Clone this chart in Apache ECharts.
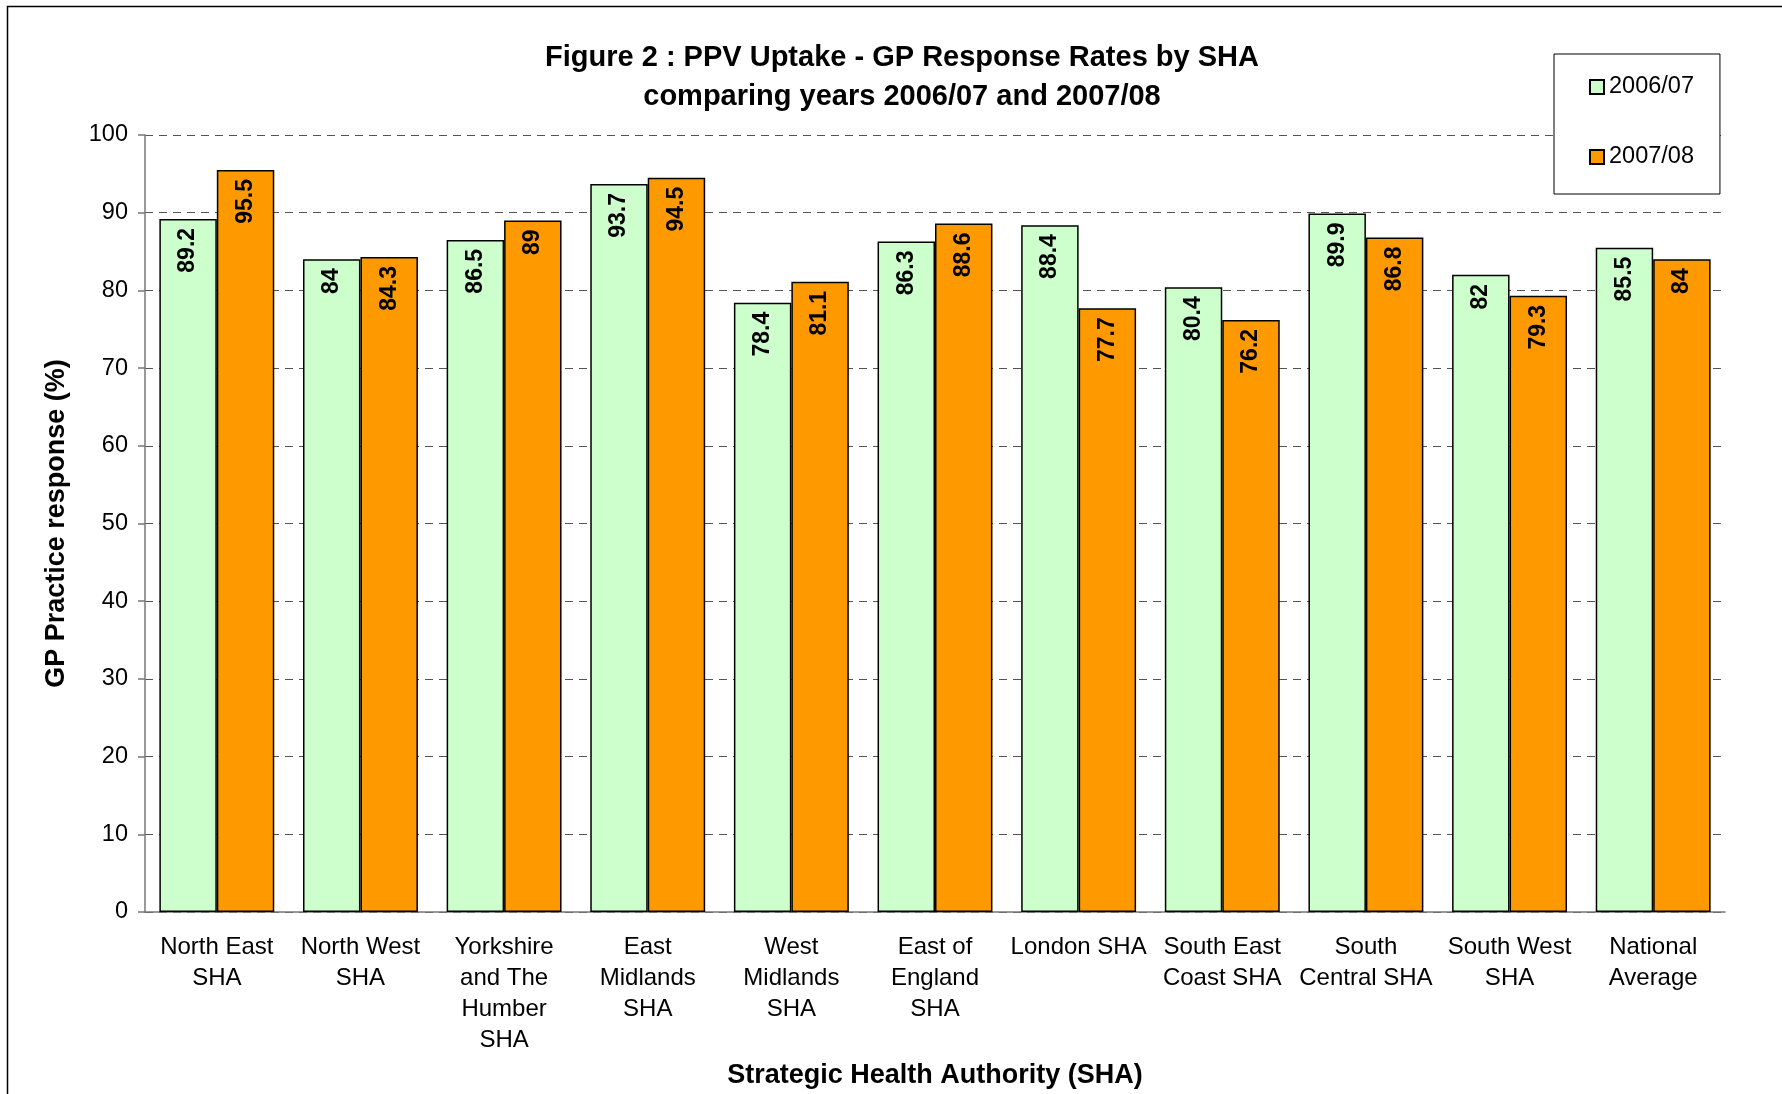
<!DOCTYPE html>
<html>
<head>
<meta charset="utf-8">
<script src="https://cdn.jsdelivr.net/npm/echarts@6/dist/echarts.min.js"></script>
<style>
  html, body { margin: 0; padding: 0; background: #fff; }
  #chart { width: 1782px; height: 1094px; }
</style>
</head>
<body>
<div id="chart"></div>
<script>
// categories and values
var categories = [
    'North East\nSHA', 'North West\nSHA', 'Yorkshire\nand The\nHumber\nSHA',
    'East\nMidlands\nSHA', 'West\nMidlands\nSHA', 'East of\nEngland\nSHA',
    'London SHA', 'South East\nCoast SHA', 'South\nCentral SHA',
    'South West\nSHA', 'National\nAverage'
];
var seriesNames = ['2006/07', '2007/08'];
var values0607 = [89.2, 84, 86.5, 93.7, 78.4, 86.3, 88.4, 80.4, 89.9, 82, 85.5];
var values0708 = [95.5, 84.3, 89, 94.5, 81.1, 88.6, 77.7, 76.2, 86.8, 79.3, 84];
var yTicks = { min: 0, max: 100, step: 10 };

var FONT = 'Liberation Sans, Arial, sans-serif';

function barSeries(name, data, color) {
    return {
        name: name,
        type: 'bar',
        data: data,
        barGap: '0%',
        barCategoryGap: '20%',
        itemStyle: { color: color, borderColor: '#000', borderWidth: 1.5 },
        label: {
            show: true,
            position: 'insideTop',
            rotate: 90,
            align: 'right',
            verticalAlign: 'middle',
            distance: 9,
            fontFamily: FONT,
            fontWeight: 'bold',
            fontSize: 23,
            color: '#000'
        }
    };
}

var chart = echarts.init(document.getElementById('chart'));
chart.setOption({
    animation: false,
    backgroundColor: '#fff',
    grid: { left: 145, right: 57, top: 135, bottom: 176 },
    graphic: [
        {
            type: 'rect',
            shape: { x: 7.5, y: 6.5, width: 2000, height: 2000 },
            style: { fill: 'none', stroke: '#000', lineWidth: 1.5 },
            silent: true
        },
        {
            type: 'text',
            x: 902, y: 38,
            style: {
                text: 'Figure 2 : PPV Uptake - GP Response Rates by SHA\ncomparing years 2006/07 and 2007/08',
                textAlign: 'center',
                font: 'bold 29px ' + FONT,
                lineHeight: 39,
                fill: '#000'
            }
        }
    ],
    legend: {
        orient: 'vertical',
        left: 1554,
        top: 54,
        width: 166,
        padding: [21, 26, 25, 35],
        itemGap: 46,
        itemWidth: 14,
        itemHeight: 14,
        icon: 'rect',
        borderColor: '#000',
        borderWidth: 1,
        backgroundColor: '#fff',
        textStyle: { fontFamily: FONT, fontSize: 23.5, color: '#000' },
        data: seriesNames
    },
    xAxis: {
        type: 'category',
        data: categories,
        name: 'Strategic Health Authority (SHA)',
        nameLocation: 'middle',
        nameGap: 150,
        nameTextStyle: { fontFamily: FONT, fontWeight: 'bold', fontSize: 27, color: '#000' },
        axisLine: { lineStyle: { color: '#777', width: 1.5 } },
        axisTick: { length: 7, lineStyle: { color: '#777', width: 1.5 } },
        axisLabel: { interval: 0, margin: 20, fontFamily: FONT, fontSize: 24, color: '#000', lineHeight: 31 }
    },
    yAxis: {
        type: 'value',
        min: yTicks.min,
        max: yTicks.max,
        interval: yTicks.step,
        name: 'GP Practice response (%)',
        nameLocation: 'middle',
        nameGap: 75,
        nameTextStyle: { fontFamily: FONT, fontWeight: 'bold', fontSize: 27, color: '#000' },
        axisLine: { show: true, lineStyle: { color: '#777', width: 1.5 } },
        axisTick: { show: true, length: 7, lineStyle: { color: '#777', width: 1.5 } },
        axisLabel: { margin: 17, fontFamily: FONT, fontSize: 23.5, color: '#000' },
        splitLine: { show: true, lineStyle: { color: '#555', width: 1, type: [8, 6] } }
    },
    series: [
        barSeries(seriesNames[0], values0607, '#CCFFCC'),
        barSeries(seriesNames[1], values0708, '#FF9900')
    ]
});
</script>
</body>
</html>
